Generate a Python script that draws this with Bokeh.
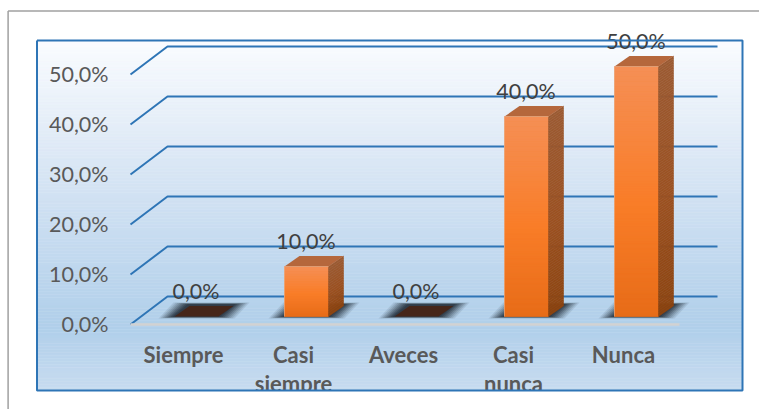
from bokeh.plotting import figure
from bokeh.embed import file_html
from bokeh.resources import INLINE
from bokeh.core.properties import value as fixed

categories = ["Siempre", "Casi\nsiempre", "Aveces", "Casi\nnunca", "Nunca"]
percent = [0.0, 10.0, 0.0, 40.0, 50.0]
tick_values = [0, 10, 20, 30, 40, 50]
tick_labels = ["0,0%", "10,0%", "20,0%", "30,0%", "40,0%", "50,0%"]

W, H = 759, 409
OX, OY = 0, 0
PX0, PXU = 196.0, 110.0   # page x of the first category, px per category
PY0, PYU = 316.0, 5.0     # page y of value 0, px per percent


def dx(px):
    return (px - PX0) / PXU


def dy(py):
    return (PY0 - py) / PYU


p = figure(width=W, height=H, output_backend="svg", toolbar_location=None,
           x_range=(dx(OX), dx(OX + W)), y_range=(dy(OY + H), dy(OY)),
           min_border=0, x_axis_type="linear", y_axis_type="linear")
p.axis.visible = False
p.grid.visible = False
p.outline_line_color = None
p.background_fill_color = "white"
p.border_fill_color = "white"

HALF = 22 / PXU            # half bar width
DEPTH_X = 15 / PXU
DEPTH_Y = 10.5 / PYU


def lerp_stops(stops, t):
    for (t0, c0), (t1, c1) in zip(stops, stops[1:]):
        if t <= t1:
            f = (t - t0) / (t1 - t0) if t1 > t0 else 0
            return "#%02x%02x%02x" % tuple(round(a + (b - a) * f) for a, b in zip(c0, c1))
    return "#%02x%02x%02x" % stops[-1][1]


def gradient(x0, x1, ytop, ybot, stops, n):
    """Vertical gradient as stacked quads, in data coordinates."""
    lefts, rights, tops, bots, cols = [], [], [], [], []
    for i in range(n):
        lefts.append(x0)
        rights.append(x1)
        tops.append(ytop + (ybot - ytop) * i / n)
        bots.append(ytop + (ybot - ytop) * (i + 1) / n)
        cols.append(lerp_stops(stops, (i + 0.5) / n))
    p.quad(left=lefts, right=rights, top=tops, bottom=bots, fill_color=cols, line_color=cols, line_width=0.5)


# outer grey frame
p.line([dx(7.6), dx(7.6)], [dy(OY + H), dy(10.5)], line_color="#a0a0a0", line_width=1.5)
p.line([dx(7.6), dx(OX + W)], [dy(10.5), dy(10.5)], line_color="#a0a0a0", line_width=1.5)

# panel gradient
gradient(dx(36.5), dx(742), dy(40), dy(390),
         [(0, (250, 252, 255)), (0.2, (232, 240, 249)), (0.47, (207, 224, 242)),
          (0.82, (176, 207, 234)), (1, (200, 220, 240))], 120)

# gridlines: back wall plus side wall
FRONT_X, BACK_X, RIGHT_X = dx(130), dx(167), dx(717)
BACK_LIFT = dy(296)
FRONT_DROP = dy(324)
for v in tick_values:
    yb = v + BACK_LIFT
    yf = v + FRONT_DROP
    p.line([FRONT_X, BACK_X, RIGHT_X], [yf, yb, yb], line_color="#2e75b6", line_width=2)

# floor edge
p.line([FRONT_X, dx(679)], [FRONT_DROP, FRONT_DROP], line_color="#d2d2d2", line_width=2.5)

# bar shadows: stacked translucent layers stand in for the blur
SHADOW_LAYERS = [(16, 0.10), (14, 0.12), (12, 0.15), (10, 0.18), (8, 0.22), (6, 0.26), (4, 0.30), (2, 0.35)]
for i, v in enumerate(percent):
    for grow, alpha in SHADOW_LAYERS:
        g = grow / PXU
        yb, yt = dy(316 + grow * 0.12), dy(304 - grow * 0.12)
        xs = [i - HALF - g, i - HALF - g + DEPTH_X, i + HALF + DEPTH_X + g, i + HALF + g]
        p.patch(xs, [yb, yt, yt, yb], fill_color="#1c2630", fill_alpha=alpha, line_color=None)

# bars
FRONT = [(0, (245, 143, 86)), (0.55, (249, 125, 40)), (1, (231, 108, 24))]
SIDE = [(0, (155, 90, 50)), (0.55, (155, 80, 32)), (1, (140, 68, 16))]
for i, v in enumerate(percent):
    if v == 0:
        xs = [i - HALF, i - HALF + DEPTH_X, i + HALF + DEPTH_X, i + HALF]
        p.patch(xs, [0, DEPTH_Y, DEPTH_Y, 0], fill_color="#46261a", line_color=None)
        continue
    p.vbar(x=[i], width=[2 * HALF], top=[v], bottom=[0], fill_color="#f97d28", line_color=None)
    gradient(i - HALF, i + HALF, v, 0, FRONT, max(4, int(v * 2)))
    # side face in thin slanted strips
    n = max(4, int(v * 2))
    for k in range(n):
        a = v * (1 - k / n)
        b = v * (1 - (k + 1) / n)
        c = lerp_stops(SIDE, (k + 0.5) / n)
        p.patch([i + HALF, i + HALF + DEPTH_X, i + HALF + DEPTH_X, i + HALF],
                [a, a + DEPTH_Y, b + DEPTH_Y, b], fill_color=c, line_color=c, line_width=0.5)
    # top face
    p.patch([i - HALF, i - HALF + DEPTH_X, i + HALF + DEPTH_X, i + HALF],
            [v, v + DEPTH_Y, v + DEPTH_Y, v], fill_color="#b5673c", line_color=None)
    # light edge
    p.line([i - HALF, i - HALF, i + HALF], [0, v, v], line_color="#e8b08c", line_width=1, line_alpha=0.6)

FONT = "Lato"
SIZE = "21.5px"

# value-axis labels
p.text(x=[dx(108)] * len(tick_values), y=[v + dy(323.5) for v in tick_values], text=tick_labels,
       text_font=fixed(FONT), text_font_size=fixed(SIZE), text_color="#595959",
       text_align="right", text_baseline="middle")

# data labels
p.text(x=[i - 0.5 / PXU for i in range(len(percent))],
       y=[v + dy(290) for v in percent],
       text=[("%.1f%%" % v).replace(".", ",") for v in percent],
       text_font=fixed(FONT), text_font_size=fixed(SIZE), text_color="#404040",
       text_align="center", text_baseline="middle")

# category labels (clipped by the panel's lower edge)
cx, cy, ct = [], [], []
for i, c in enumerate(categories):
    for j, part in enumerate(c.split("\n")):
        cx.append(i - 13 / PXU)
        cy.append(dy(354 + j * 28.5))
        ct.append(part)
p.text(x=cx, y=cy, text=ct, text_font=fixed(FONT), text_font_size=fixed("22px"),
       text_font_style="bold", text_color="#595959", text_align="center", text_baseline="middle")

# white strip below the panel cuts the overflowing labels
p.quad(left=[dx(9)], right=[dx(OX + W)], top=[dy(390)], bottom=[dy(OY + H)], fill_color="white", line_color=None)

# panel border
p.line([dx(36.5), dx(36.5), dx(742), dx(742), dx(36.5)],
       [dy(40), dy(390), dy(390), dy(40), dy(40)], line_color="#2e75b6", line_width=2)

open("out.html", "w").write(file_html(p, INLINE))
